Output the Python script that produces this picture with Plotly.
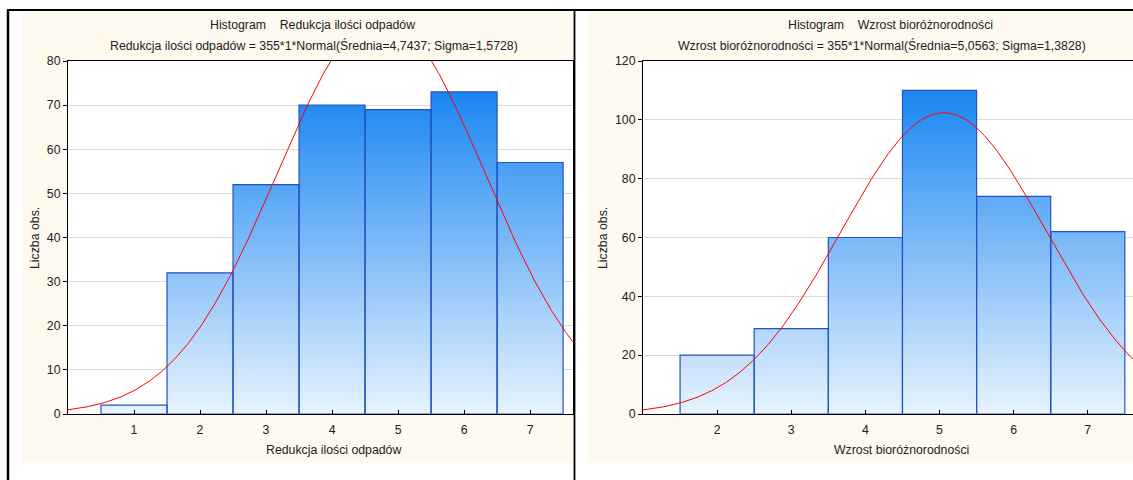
import numpy as np
import plotly.graph_objects as go

# ---- data ----
bins_left = [1, 2, 3, 4, 5, 6, 7]
counts_left = [2, 32, 52, 70, 69, 73, 57]
bins_right = [2, 3, 4, 5, 6, 7]
counts_right = [20, 29, 60, 110, 74, 62]
n_obs = 355
mean_left, sigma_left = 4.7437, 1.5728
mean_right, sigma_right = 5.0563, 1.3828
title_left = "Redukcja ilości odpadów"
title_right = "Wzrost bioróżnorodności"
yticks_left = [0, 10, 20, 30, 40, 50, 60, 70, 80]
yticks_right = [0, 20, 40, 60, 80, 100, 120]

W, H = 1133, 480
FONT = "Liberation Sans, Arial, sans-serif"
CREAM = "#FDF9EE"
LIGHT = "#E8F3FE"
DARK = "#1A86F2"
EDGE = "#2352C2"

def px(x):
    return x / W

def py(y):
    return 1 - y / H

xr_left = [0, 7.65]
xr_right = [1, 7.61]

def bar_poly(bins, counts):
    xs, ys = [], []
    for b, c in zip(bins, counts):
        xs += [b - 0.5, b - 0.5, b + 0.5, b + 0.5, b - 0.5, None]
        ys += [0, c, c, 0, 0, None]
    return xs, ys

def normal_curve(xr, mean, sigma):
    x = np.linspace(xr[0], xr[1], 400)
    y = n_obs * 1 * np.exp(-0.5 * ((x - mean) / sigma) ** 2) / (sigma * np.sqrt(2 * np.pi))
    return x, y

fig = go.Figure()

for bins, counts, xr, mean, sigma, xa, ya in [
    (bins_left, counts_left, xr_left, mean_left, sigma_left, "x", "y"),
    (bins_right, counts_right, xr_right, mean_right, sigma_right, "x2", "y2"),
]:
    bx, by = bar_poly(bins, counts)
    fig.add_trace(go.Scatter(
        x=bx, y=by, mode="lines", fill="toself",
        line=dict(color=EDGE, width=1.2),
        fillgradient=dict(type="vertical", colorscale=[[0, LIGHT], [1, DARK]],
                          start=0, stop=max(counts)),
        xaxis=xa, yaxis=ya, showlegend=False, hoverinfo="skip"))
    cx, cy = normal_curve(xr, mean, sigma)
    fig.add_trace(go.Scatter(
        x=cx, y=cy, mode="lines", line=dict(color="#FF0000", width=1),
        xaxis=xa, yaxis=ya, showlegend=False))

ydom = [py(414), py(61)]
axis_common = dict(showline=True, linecolor="#000000", linewidth=1, mirror=True,
                   zeroline=False, automargin=False,
                   tickfont=dict(family=FONT, size=12.3, color="#222"),
                   ticklen=4, tickcolor="#000")

fig.update_layout(
    width=W, height=H, margin=dict(l=0, r=0, t=0, b=0, pad=0, autoexpand=False),
    paper_bgcolor="white", plot_bgcolor="white",
    font=dict(family=FONT, size=12, color="#222"),
    xaxis=dict(domain=[px(68), px(573)], range=xr_left, tickvals=bins_left,
               ticks="inside", showgrid=False, anchor="y", ticklabelstandoff=4, **axis_common),
    yaxis=dict(domain=ydom, range=[0, 80], tickvals=yticks_left, ticks="outside",
               showgrid=True, gridcolor="#DADADA", anchor="x", **axis_common),
    xaxis2=dict(domain=[px(643), 1.0], range=xr_right, tickvals=bins_right,
                ticks="inside", showgrid=False, anchor="y2", ticklabelstandoff=4, **axis_common),
    yaxis2=dict(domain=ydom, range=[0, 120], tickvals=yticks_right, ticks="outside",
                showgrid=True, gridcolor="#DADADA", anchor="x2", **axis_common),
)

shapes = []
# cream panels
shapes.append(dict(type="rect", xref="paper", yref="paper", x0=px(22), x1=px(573),
                   y0=py(463), y1=py(12), fillcolor=CREAM, line=dict(width=0), layer="below"))
shapes.append(dict(type="rect", xref="paper", yref="paper", x0=px(588), x1=1,
                   y0=py(463), y1=py(12), fillcolor=CREAM, line=dict(width=0), layer="below"))
# white plot areas
for xa, ya in [("x", "y"), ("x2", "y2")]:
    shapes.append(dict(type="rect", xref=f"{xa} domain", yref=f"{ya} domain", x0=0, x1=1,
                       y0=0, y1=1, fillcolor="white", line=dict(width=0), layer="below"))
# black frame lines
shapes.append(dict(type="line", xref="paper", yref="paper", x0=px(8), x1=px(8),
                   y0=py(10), y1=0, line=dict(color="black", width=2.5), layer="above"))
shapes.append(dict(type="line", xref="paper", yref="paper", x0=px(7), x1=1,
                   y0=py(10), y1=py(10), line=dict(color="black", width=2), layer="above"))
shapes.append(dict(type="line", xref="paper", yref="paper", x0=px(574.5), x1=px(574.5),
                   y0=py(10), y1=0, line=dict(color="black", width=1.8), layer="above"))
fig.update_layout(shapes=shapes)

ann = []
def text(x, y, s, angle=0):
    ann.append(dict(xref="paper", yref="paper", x=px(x), y=py(y), text=s, showarrow=False,
                    xanchor="center", yanchor="middle", textangle=angle,
                    font=dict(family=FONT, size=12.3, color="#222")))

sp = "\u00a0" * 4
text(312, 25, "Histogram" + sp + title_left)
text(314, 45, f"{title_left} = {n_obs}*1*Normal(Średnia={str(mean_left).replace('.', ',')}; Sigma={str(sigma_left).replace('.', ',')})")
text(333, 450, title_left)
text(35, 238, "Liczba obs.", -90)

text(890, 25, "Histogram" + sp + title_right)
text(882, 45, f"{title_right} = {n_obs}*1*Normal(Średnia={str(mean_right).replace('.', ',')}; Sigma={str(sigma_right).replace('.', ',')})")
text(901, 450, title_right)
text(603, 238, "Liczba obs.", -90)
fig.update_layout(annotations=ann)

fig.write_html("out.html")
